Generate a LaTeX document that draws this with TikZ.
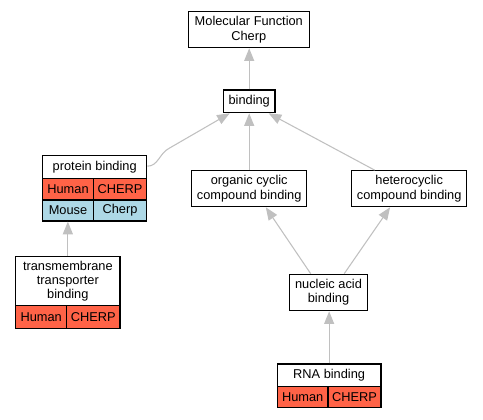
\documentclass[tikz,border=0pt]{standalone}
\usepackage{fontspec}
\setmainfont{Liberation Sans}
\usetikzlibrary{arrows.meta,calc}
\definecolor{hred}{RGB}{255,99,71}
\definecolor{mblue}{RGB}{173,216,230}
\definecolor{egray}{RGB}{192,192,192}
\begin{document}
\begin{tikzpicture}[x=0.75pt,y=-0.75pt,
  box/.style={draw=black,line width=0.9pt,fill=white,inner sep=0pt,align=center,
    font=\fontsize{9.6}{10.6}\selectfont},
  cell/.style={box},
  human/.style={cell,fill=hred},
  mouse/.style={cell,fill=mblue},
  edge/.style={draw=egray,line width=0.8pt,-{Triangle[length=9.5pt,width=7.5pt]}}]
\useasboundingbox (0,0) rectangle (483,419);
% nodes
\node[box,minimum width=121*0.75pt,minimum height=36*0.75pt] (mf) at (248.8,29.7) {Molecular Function\\Cherp};
\node[box,minimum width=51.7*0.75pt,minimum height=22.7*0.75pt] (bind) at (249.2,101.3) {binding};
\node[box,minimum width=115*0.75pt,minimum height=36*0.75pt] (occb) at (249.2,188.7) {organic cyclic\\compound binding};
\node[box,minimum width=115*0.75pt,minimum height=36*0.75pt] (hccb) at (409.2,188.7) {heterocyclic\\compound binding};
\node[box,minimum width=78.4*0.75pt,minimum height=36.4*0.75pt] (nab) at (328.5,292.5) {nucleic acid\\binding};
% protein binding table
\node[box,minimum width=104*0.75pt,minimum height=23*0.75pt] (pbh) at (94.7,167.2) {protein binding};
\node[human,minimum width=50.6*0.75pt,minimum height=21.3*0.75pt] (pbh1) at (68,189.35) {Human};
\node[human,minimum width=53.4*0.75pt,minimum height=21.3*0.75pt] (pbh2) at (120,189.35) {CHERP};
\node[mouse,minimum width=50.6*0.75pt,minimum height=21*0.75pt] (pbm1) at (68,210.5) {Mouse};
\node[mouse,minimum width=53.4*0.75pt,minimum height=21*0.75pt] (pbm2) at (120,210.5) {Cherp};
% transmembrane table
\node[box,minimum width=104.3*0.75pt,minimum height=49*0.75pt] (tmh) at (67.85,281.2) {transmembrane\\transporter\\binding};
\node[human,minimum width=51*0.75pt,minimum height=22.6*0.75pt] (tm1) at (41.2,317) {Human};
\node[human,minimum width=53.3*0.75pt,minimum height=22.6*0.75pt] (tm2) at (93.35,317) {CHERP};
% RNA binding table
\node[box,minimum width=103.7*0.75pt,minimum height=22.7*0.75pt] (rnah) at (329.15,375.35) {RNA binding};
\node[human,minimum width=50.7*0.75pt,minimum height=21*0.75pt] (rna1) at (302.65,397.2) {Human};
\node[human,minimum width=53*0.75pt,minimum height=21*0.75pt] (rna2) at (354.5,397.2) {CHERP};
% edges
\draw[edge] (bind.north) -- (bind.north |- mf.south);
\draw[edge] (occb.north) -- (occb.north |- bind.south);
\draw[edge] ($(hccb.north west)+(23.5,0)$) -- ($(bind.south east)+(-7,0)$);
\draw[edge] ($(nab.north west)+(22,0)$) -- ($(occb.south east)+(-41.5,0)$);
\draw[edge] ($(nab.north west)+(55.5,0)$) -- ($(hccb.south west)+(39,0)$);
\draw[edge] (rnah.north) -- (rnah.north |- nab.south);
\draw[edge] (tmh.north) -- (tmh.north |- pbm1.south);
\draw[edge] ($(pbh.east)+(0,-1)$) .. controls ($(pbh.east)+(11,-1)$) and ($(pbh.east)+(12,-14)$) .. ($(pbh.east)+(22,-19)$) -- ($(bind.south west)+(7,0)$);
\end{tikzpicture}
\end{document}
